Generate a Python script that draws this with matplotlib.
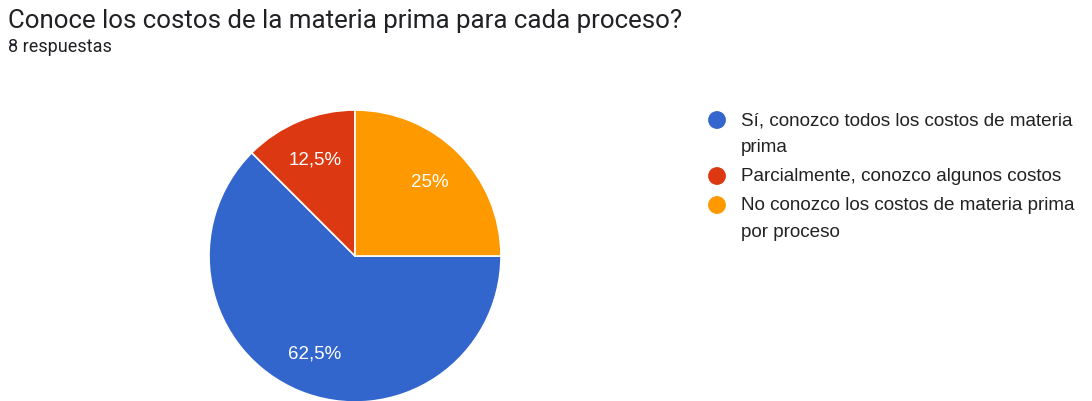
import matplotlib
matplotlib.use("Agg")
import matplotlib.pyplot as plt

plt.rcParams['font.family'] = ['Roboto', 'DejaVu Sans']

title = "Conoce los costos de la materia prima para cada proceso?"
subtitle = "8 respuestas"
labels = ["Sí, conozco todos los costos de materia\nprima",
          "Parcialmente, conozco algunos costos",
          "No conozco los costos de materia prima\npor proceso"]
counts = [5, 1, 2]
colors = ["#3366CC", "#DC3912", "#FF9900"]

W, H = 1092, 402
fig = plt.figure(figsize=(W / 100, H / 100), dpi=100)

# pie axes placed in pixel coords
cx, cy, r = 355, 257, 146
ax = fig.add_axes([(cx - r) / W, (H - cy - r) / H, 2 * r / W, 2 * r / H])

def pct(p):
    s = "%.1f" % p
    if s.endswith(".0"):
        s = s[:-2]
    return s.replace(".", ",") + "%"

wedges, texts, autotexts = ax.pie(counts, colors=colors, startangle=0, counterclock=False,
                                  autopct=pct, pctdistance=0.72, radius=1,
                                  wedgeprops=dict(edgecolor="white", linewidth=1.2),
                                  textprops=dict(color="white", fontsize=13.5,
                                                 family=['Liberation Sans', 'DejaVu Sans']))
ax.set_xlim(-1, 1)
ax.set_ylim(-1, 1)
ax.set_aspect('equal')
ax.axis('off')

fig.text(8 / W, 1 - 21 / H, title, fontsize=18.6, color="#202124", va="center", ha="left")
fig.text(8 / W, 1 - 47 / H, subtitle, fontsize=13, color="#202124", va="center", ha="left")

# legend drawn manually
lax = fig.add_axes([0, 0, 1, 1])
lax.set_xlim(0, W)
lax.set_ylim(H, 0)
lax.axis('off')
y = 121
for lab, col in zip(labels, colors):
    lax.scatter([717], [y], s=165, color=col, edgecolors='none')
    lines = lab.split("\n")
    for i, ln in enumerate(lines):
        lax.text(741, y + i * 27, ln, fontsize=13.6, color="#222222", va="center", ha="left",
                 family=['Liberation Sans', 'DejaVu Sans'])
    y += 27 * (len(lines) - 1) + 29

fig.savefig("out.png", dpi=100, facecolor="white")
